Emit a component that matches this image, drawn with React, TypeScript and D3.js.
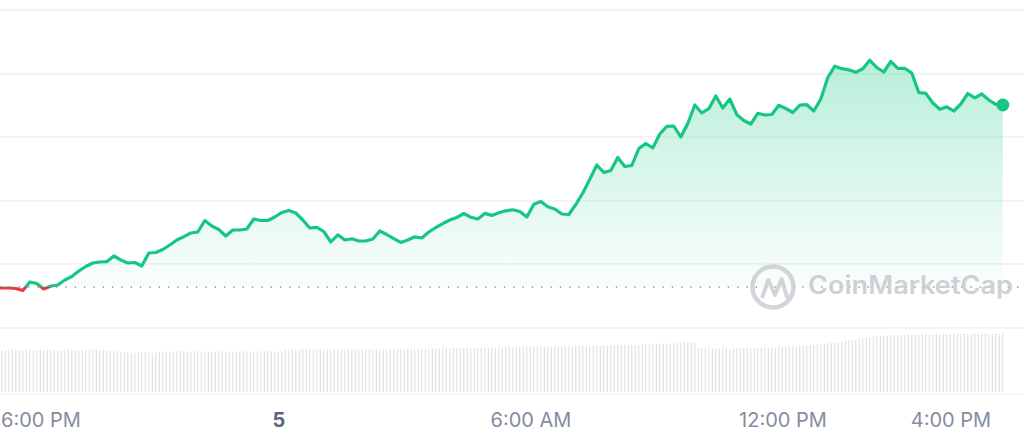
import React from 'react';
import * as d3 from 'd3';

const W = 1024;
const H = 442;

// ---- data ----
const startTime = new Date(2023, 9, 4, 17, 14);
const priceStepMin = 10;
const volumeStepMin = 5;
const openPrice = 2000;

const prices: number[] = [
  1999, 1999, 1999, 1998.5, 1996.5, 2005, 2003.5, 1998, 2001, 2002, 2007, 2010.5,
  2016, 2020.5, 2024, 2025, 2025.3, 2031, 2027, 2024, 2024.5, 2021, 2034, 2034.5,
  2037.5, 2042, 2047, 2050.3, 2054, 2055, 2066.5, 2061, 2057.5, 2051, 2057, 2057,
  2058, 2068, 2066.5, 2066.5, 2070, 2074.5, 2076.5, 2074, 2067, 2059, 2059.7, 2055.5,
  2045, 2052.2, 2047, 2048.2, 2046, 2046, 2048, 2056, 2052.5, 2048.3, 2044.6, 2047,
  2050.2, 2049, 2055, 2059.5, 2063.4, 2067, 2069.5, 2073.5, 2069.8, 2068, 2073.6, 2071.6,
  2074.3, 2076.2, 2077.2, 2075.5, 2070, 2082.8, 2085.5, 2080.2, 2078, 2073, 2072.5, 2082.5,
  2094, 2107.7, 2122, 2114.5, 2116.5, 2129.5, 2120.5, 2121.5, 2138.5, 2143.5, 2139, 2153,
  2160.7, 2161, 2150, 2163.5, 2182, 2174, 2178.3, 2191, 2179, 2188, 2172.4, 2166.5,
  2163, 2173.7, 2172, 2172.5, 2181.7, 2178.5, 2174.5, 2181.9, 2182.3, 2176, 2188, 2209.5,
  2220.8, 2218.3, 2217.2, 2214.7, 2218.2, 2226.7, 2219.5, 2215, 2225.5, 2218.7, 2218.7, 2214,
  2194.5, 2193.6, 2184, 2177.7, 2180.2, 2176, 2183, 2193.5, 2189.2, 2193, 2187, 2182.7,
  2182,
];

const volumes: number[] = [
  42, 42.5, 42, 41.5, 42, 42.5, 42, 42, 41.5, 42, 42.5, 42,
  42, 41.5, 42, 42.5, 42, 42, 41.5, 42, 42, 42.5, 42, 41.5,
  42, 42, 41.5, 42, 42.5, 42, 41.5, 42, 42, 41.5, 41, 40.5,
  39.5, 39.5, 40, 39.5, 39, 39.5, 39.5, 40, 39.5, 39, 39.5, 40,
  40.5, 40.5, 40, 40.5, 41, 40.5, 40.5, 40, 40.5, 40.5, 41, 40.5,
  40.5, 40, 40.5, 40.5, 41, 40.5, 40.5, 40.5, 40, 40.5, 40.5, 41,
  40.5, 40.5, 40, 40.5, 40.5, 41, 40.5, 40.5, 40.5, 40, 40.5, 42.5,
  42.5, 42.5, 42, 42.5, 43, 42.5, 42.5, 42, 42.5, 42.5, 42, 42.5,
  42, 42.5, 42.5, 42, 42.5, 42.5, 42, 42.5, 42.5, 42, 42.5, 42.5,
  42.5, 42, 42.5, 42.5, 42, 42.5, 42.5, 42.5, 43, 42.5, 43, 43,
  43, 43, 43.5, 43, 43, 43.5, 43.5, 43, 43.5, 43.5, 43.5, 44,
  43.5, 44, 44, 44, 43.5, 44, 44, 44.5, 44, 44, 44.5, 44.5,
  44.5, 44.5, 45, 44.5, 44.5, 45, 45, 44.5, 45, 45, 45, 45.5,
  45, 45.5, 45.5, 45.5, 45, 45.5, 45.5, 46, 45.5, 45.5, 46, 46,
  46, 46, 45.5, 46, 46.5, 46, 46.5, 46.5, 46.5, 47, 46.5, 47,
  47, 47, 47.5, 47, 47.5, 47.5, 48, 47.5, 48, 48, 48.5, 48,
  48.5, 48.5, 49, 48.5, 49, 49.5, 50, 49.5, 50, 44, 43.5, 43.5,
  43.5, 43.5, 43, 43.5, 43.5, 43.5, 43, 43.5, 43.5, 43.5, 43.5, 44,
  43.5, 44, 44, 44, 44.5, 44, 44.5, 44.5, 45, 44.5, 45, 45,
  45.5, 45.5, 46, 46, 46.5, 46.5, 47, 47.5, 47.5, 48, 48.5, 49,
  49.5, 50, 50.5, 51, 51.5, 52, 52.5, 53, 53.5, 54, 54.5, 55.5,
  56, 56, 56.5, 56, 56.5, 57, 56.5, 57, 57, 57.5, 57, 57.5,
  57.5, 57.5, 58, 57.5, 58, 58, 57.5, 58, 58, 58, 58.5, 58,
  58, 58.5, 58, 58, 58.5, 58, 58, 58.5, 58, 58, 58.5, 58,
  58,
];

const gridValues = [1959, 2023, 2086, 2150, 2213, 2277];

const tickTimes = [
  new Date(2023, 9, 4, 18, 0),
  new Date(2023, 9, 5, 0, 0),
  new Date(2023, 9, 5, 6, 0),
  new Date(2023, 9, 5, 12, 0),
  new Date(2023, 9, 5, 16, 0),
];

// ---- derived ----
type P = { t: Date; v: number };
const priceData: P[] = prices.map((v, i) => ({ t: d3.timeMinute.offset(startTime, i * priceStepMin), v }));
const volumeData: P[] = volumes.map((v, i) => ({ t: d3.timeMinute.offset(startTime, i * volumeStepMin), v }));

const GREEN = '#16c784';
const RED = '#ea3943';

export default function App() {
  const x = d3.scaleTime()
    .domain([tickTimes[0], tickTimes[tickTimes.length - 1]])
    .range([27, 951]);
  const y = d3.scaleLinear().domain([1959, 2277]).range([328, 10]);
  const vy = d3.scaleLinear().domain([0, 60]).range([392, 332]);

  const yBase = y(openPrice);
  const line = d3.line<P>().x(d => x(d.t)).y(d => y(d.v));
  const area = d3.area<P>().x(d => x(d.t)).y0(yBase).y1(d => y(d.v));
  const last = priceData[priceData.length - 1];
  const yTop = y(d3.max(prices) as number);

  const fmtTime = d3.timeFormat('%-I:%M %p');
  const fmtDay = d3.timeFormat('%-d');

  return (
    <div style={{ position: 'fixed', left: 0, top: 0 }}>
      <svg width={W} height={H} style={{ display: 'block', background: '#fff' }}>
        <defs>
          <clipPath id="above"><rect x={0} y={0} width={W} height={yBase} /></clipPath>
          <clipPath id="below"><rect x={0} y={yBase} width={W} height={H - yBase} /></clipPath>
          <linearGradient id="fillGrad" gradientUnits="userSpaceOnUse" x1={0} y1={yTop} x2={0} y2={yBase}>
            <stop offset="0" stopColor={GREEN} stopOpacity={0.3} />
            <stop offset="1" stopColor={GREEN} stopOpacity={0.02} />
          </linearGradient>
        </defs>

        {/* grid */}
        {gridValues.map(g => (
          <line key={g} x1={0} x2={W} y1={y(g)} y2={y(g)} stroke="#eff1f4" strokeWidth={1.5} />
        ))}
        <line x1={0} x2={W} y1={394} y2={394} stroke="#f1f3f5" strokeWidth={1.5} />

        {/* volume */}
        {volumeData.map((d, i) => (
          <rect key={i} x={x(d.t) - 0.5} y={vy(d.v)} width={1} height={vy(0) - vy(d.v)} fill="#d9dce1" />
        ))}

        {/* area */}
        <path d={area(priceData) || ''} fill="url(#fillGrad)" clipPath="url(#above)" />

        {/* baseline dotted */}
        <line x1={0} x2={W} y1={yBase} y2={yBase} stroke="#8a919e" strokeWidth={1.5} strokeDasharray="1.4 7.93" />

        {/* watermark */}
        <g opacity={0.85}>
          <circle cx={773} cy={287} r={20.5} fill="none" stroke="#cbcfd5" strokeWidth={4.5} />
          <path d="M 762.5 296.5 L 768.3 280 L 775 295 L 781.7 279 L 786.7 296.5 Q 789 299 793 292"
            fill="none" stroke="#cbcfd5" strokeWidth={4} strokeLinejoin="round" strokeLinecap="round" />
          <text x={808} y={294} fontFamily="Inter, 'Noto Sans', sans-serif" fontWeight={600} fontSize={25}
            fill="#c6cad0" textLength={205} lengthAdjust="spacingAndGlyphs">CoinMarketCap</text>
        </g>

        {/* price line */}
        <path d={line(priceData) || ''} fill="none" stroke={GREEN} strokeWidth={3.2} strokeLinejoin="round" strokeLinecap="round" clipPath="url(#above)" />
        <path d={line(priceData) || ''} fill="none" stroke={RED} strokeWidth={3.2} strokeLinejoin="round" strokeLinecap="round" clipPath="url(#below)" />
        <circle cx={x(last.t)} cy={y(last.v)} r={6.5} fill={last.v >= openPrice ? GREEN : RED} />

        {/* x axis labels */}
        {tickTimes.map((t, i) => {
          const isDay = t.getHours() === 0 && t.getMinutes() === 0;
          const label = isDay ? fmtDay(t) : fmtTime(t);
          const px = x(t);
          const clampLeft = px < 45;
          return (
            <text key={i} x={clampLeft ? 1 : px} y={427} textAnchor={clampLeft ? 'start' : 'middle'}
              fontFamily="Inter, 'Noto Sans', sans-serif" fontSize={20}
              fontWeight={isDay ? 700 : 400} fill={isDay ? '#58667e' : '#858ca0'}>{label}</text>
          );
        })}
      </svg>
    </div>
  );
}
